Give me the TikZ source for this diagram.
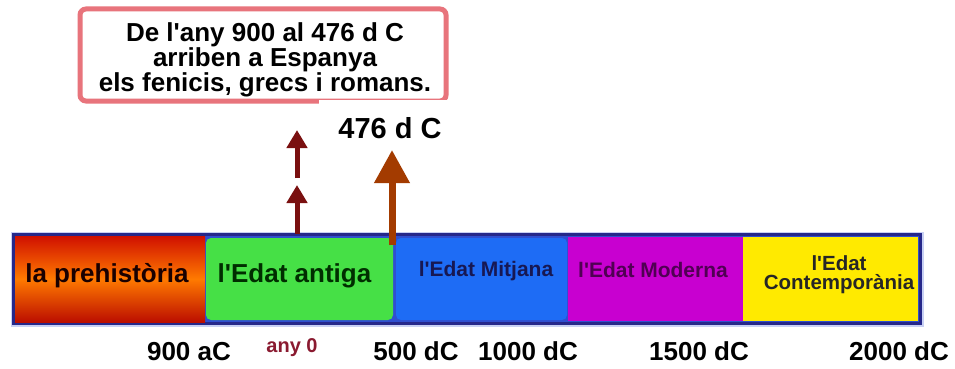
\documentclass[tikz,border=0pt]{standalone}
\usepackage{fontspec}
\setmainfont{Liberation Sans}
\usetikzlibrary{arrows.meta}
\newcommand{\ap}{\textquotesingle}
\definecolor{navy}{HTML}{26288A}
\definecolor{halo}{HTML}{C8D0F4}
\definecolor{barbg}{HTML}{2F4FD0}
\definecolor{segred}{HTML}{D01000}
\definecolor{segorange}{HTML}{FF7A00}
\definecolor{seggreen}{HTML}{46E046}
\definecolor{segblue}{HTML}{1E6CF5}
\definecolor{segmag}{HTML}{C800D0}
\definecolor{segyel}{HTML}{FFEA00}
\definecolor{pinkb}{HTML}{E8747C}
\definecolor{darkred}{HTML}{7A1010}
\definecolor{brownc}{HTML}{A33B00}
\definecolor{anyc}{HTML}{8A1A30}
\begin{document}
\begin{tikzpicture}[x=1pt,y=-1pt,
  seg/.style={rounded corners=5pt},
  segtext/.style={font=\bfseries\fontsize{26}{26}\selectfont, inner sep=0pt, anchor=base},
  smalltext/.style={font=\bfseries\fontsize{21}{21}\selectfont, inner sep=0pt, anchor=base},
  datelbl/.style={font=\bfseries\fontsize{26}{26}\selectfont, inner sep=0pt, anchor=base, text=black},
  redarrow/.style={darkred, line width=5pt, -{Triangle[length=18pt,width=20pt]}},
  bigarrow/.style={brownc, line width=7pt, -{Triangle[length=33pt,width=34pt]}}
]
\useasboundingbox (0,0) rectangle (955,369);
\fill[white] (0,0) rectangle (955,369);

% callout box
\node[draw=pinkb, line width=5pt, rounded corners=6pt, fill=white,
      minimum width=366pt, minimum height=92pt, inner sep=0pt] (box) at (263,55) {};
\node[font=\bfseries\fontsize{26}{25}\selectfont, align=center, inner sep=0pt]
  (boxtext) at (265,60) {De l\ap any 900 al 476 d C\\arriben a Espanya\\els fenicis, grecs i romans.};

% label 476 with white patch
\node[fill=white, minimum width=142pt, minimum height=56pt, inner sep=0pt,
      font=\bfseries\fontsize{29}{29}\selectfont] (l476) at (390,128) {476 d C};

% timeline bar
\draw[halo, line width=6pt] (13.5,234.5) rectangle (920.5,323.5);
\draw[navy, fill=barbg, line width=3pt] (13.5,234.5) rectangle (920.5,323.5);
\shade[top color=segred, bottom color=segred!90!black, middle color=segorange] (15,236) rectangle (205,322);
\fill[seggreen, seg] (206,238) rectangle (393,320);
\fill[segblue, seg] (396,238) rectangle (567,320);
\fill[segmag] (568,237) rectangle (743,321);
\fill[segyel] (743,237) rectangle (918,321);

\node[segtext, text=black!75!red!40!black] (prehist) at (107,282) {la prehistòria};
\node[segtext, text=black!70!green!60!black] (antiga) at (294.5,282) {l\ap Edat antiga};
\node[smalltext, text=navy!60!black] (mitjana) at (486,276) {l\ap Edat Mitjana};
\node[smalltext, text=segmag!40!black] (moderna) at (653,277) {l\ap Edat Moderna};
\node[font=\bfseries\fontsize{20.5}{19}\selectfont, align=center, inner sep=0pt, text=black!85]
  (contemp) at (839,274.5) {l\ap Edat\\Contemporània};

% dates
\node[datelbl] (d900) at (189,360) {900 aC};
\node[font=\bfseries\fontsize{20}{20}\selectfont, inner sep=0pt, anchor=base, text=anyc] (d0) at (292,352) {any 0};
\node[datelbl] (d500) at (416,360) {500 dC};
\node[datelbl] (d1000) at (528,360) {1000 dC};
\node[datelbl] (d1500) at (699,360) {1500 dC};
\node[datelbl] (d2000) at (899,360) {2000 dC};

% arrows
\coordinate (a1s) at (297,234);
\coordinate (a1e) at (297,185);
\coordinate (a2s) at (297,178);
\coordinate (a2e) at (297,130);
\coordinate (bs) at (392,245);
\coordinate (be) at (392,150);
\draw[redarrow] (a1s) -- (a1e);
\draw[redarrow] (a2s) -- (a2e);
\draw[bigarrow] (bs) -- (be);
\end{tikzpicture}
\end{document}
